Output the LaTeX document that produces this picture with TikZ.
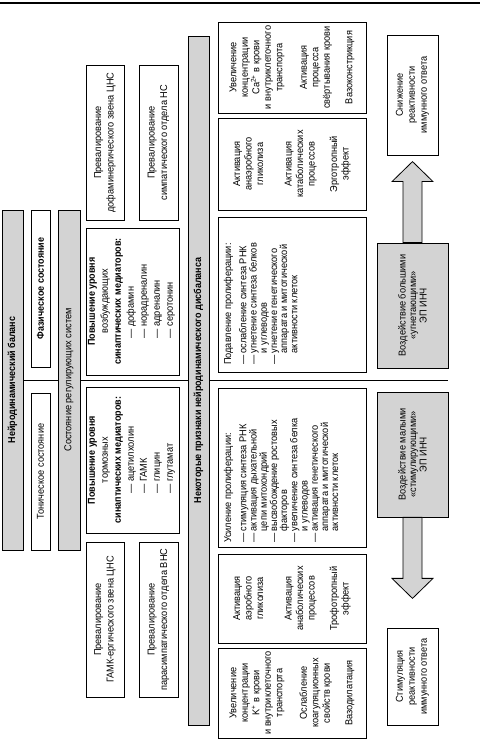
\documentclass[tikz,border=0pt]{standalone}
\usepackage{fontspec}
\setmainfont{Liberation Sans}[UprightFeatures={FakeStretch=0.92}, BoldFeatures={FakeStretch=0.9}]
\usetikzlibrary{calc}
\definecolor{barfill}{RGB}{211,211,211}
\tikzset{
  bar/.style={draw, fill=barfill, inner sep=0pt, minimum height=21pt, font=\bfseries},
  statebox/.style={draw, fill=white, inner sep=0pt, minimum width=157pt, minimum height=19pt},
  mediator/.style={draw, fill=white, align=center, inner sep=0pt, minimum height=93pt, font=\fontsize{10}{13}\selectfont},
  prevbox/.style={draw, fill=white, align=center, inner sep=0pt, minimum width=155pt, minimum height=38pt, font=\fontsize{10}{12.5}\selectfont},
  effect/.style={draw, fill=white, align=center, inner sep=0pt, minimum height=148pt, font=\fontsize{10}{11.5}\selectfont},
  prolif/.style={draw, fill=white, inner sep=0pt, minimum height=148pt, font=\fontsize{10}{10.2}\selectfont},
  dosebox/.style={draw, fill=barfill, align=center, inner sep=0pt, minimum width=125pt, minimum height=71pt, font=\fontsize{10}{10.5}\selectfont},
  response/.style={draw, fill=white, align=center, inner sep=0pt, minimum height=51pt, font=\fontsize{10}{12}\selectfont},
  bigarrow/.style={draw, fill=barfill, line join=miter}
}
\begin{document}
\begin{tikzpicture}[x=1pt, y=1pt, line width=0.8pt, font=\fontsize{10}{11}\selectfont]
\begin{scope}[rotate=90, transform shape]
\useasboundingbox (0,0) rectangle (740,-480);
\draw[line width=1.4pt] (737,0) -- (737,-480);

% central axis
\coordinate (axistop) at (360,-23);
\coordinate (axisend) at (360,-448);
\draw (axistop) -- (axisend);

% balance and states
\node[bar, minimum width=340pt] (balance) at (360,-12.5) {Нейродинамический баланс};
\node[statebox, font=\bfseries] (phasic) at (451.5,-40.5) {Фазическое состояние};
\node[statebox] (tonic) at (268.5,-40.5) {Тоническое состояние};
\node[bar, minimum width=340pt, minimum height=22pt, font=\mdseries] (regsys) at (360,-69) {Состояние регулирующих систем};

% mediators
\node[mediator, minimum width=147pt] (excit) at (438.5,-132.5) {\textbf{Повышение уровня}\\ возбуждающих\\ \textbf{синаптических медиаторов:}\\
  \begin{tabular}[t]{@{}l@{}}— дофамин\\ — норадреналин\\ — адреналин\\ — серотонин\end{tabular}};
\node[mediator, minimum width=146pt] (inhib) at (280,-132.5) {\textbf{Повышение уровня}\\ тормозных\\ \textbf{синаптических медиаторов:}\\
  \begin{tabular}[t]{@{}l@{}}— ацетилхолин\\ — ГАМК\\ — глицин\\ — глутамат\end{tabular}};

% prevailing links
\node[prevbox] (dopa) at (597.5,-105) {Превалирование\\ дофаминергического звена ЦНС};
\node[prevbox, minimum height=39pt] (symp) at (597.5,-158.5) {Превалирование\\ симпатического отдела НС};
\node[prevbox] (gaba) at (120.5,-105) {Превалирование\\ ГАМК-ергического звена ЦНС};
\node[prevbox, minimum height=39pt] (parasymp) at (120.5,-158.5) {Превалирование\\ парасимпатического отдела ВНС};

% signs of imbalance
\node[bar, minimum width=689pt] (imbalance) at (359.5,-198.5) {Некоторые признаки нейродинамического дисбаланса};

\node[prolif, minimum width=155pt] (suppress) at (445.5,-292) {\begin{minipage}[c][136pt][t]{141pt}\raggedright
  Подавление пролиферации:\\[5pt]
  — ослабление синтеза РНК\\
  — угнетение синтеза белков\\
  \phantom{— }и углеводов\\
  — угнетение генетического\\
  \phantom{— }аппарата и митотической\\
  \phantom{— }активности клеток
  \end{minipage}};
\node[prolif, minimum width=159pt] (boost) at (272.5,-292) {\begin{minipage}[c][136pt][t]{151pt}\raggedright
  Усиление пролиферации:\\[5pt]
  — стимуляция синтеза РНК\\
  — активация дыхательной\\
  \phantom{— }цепи митохондрий\\
  — высвобождение ростовых\\
  \phantom{— }факторов\\
  — увеличение синтеза белка\\
  \phantom{— }и углеводов\\
  — активация генетического\\
  \phantom{— }аппарата и митотической\\
  \phantom{— }активности клеток
  \end{minipage}};

\node[effect, minimum width=92pt] (catab) at (576,-292) {Активация\\ анаэробного\\ гликолиза\\[17pt] Активация\\ катаболических\\ процессов\\[11pt] Эрготропный\\ эффект};
\node[effect, minimum width=91pt] (calcium) at (672.5,-292) {Увеличение\\ концентрации\\ Ca\textsuperscript{2+} в крови\\ и внутриклеточного\\ транспорта\\[13pt] Активация\\ процесса\\ свёртывания крови\\[11pt] Вазоконстрикция};
\node[effect, minimum width=89pt] (anab) at (141.5,-292) {Активация\\ аэробного\\ гликолиза\\[17pt] Активация\\ анаболических\\ процессов\\[11pt] Трофотропный\\ эффект};
\node[effect, minimum width=90pt] (potass) at (47,-292) {Увеличение\\ концентрации\\ K\textsuperscript{+} в крови\\ и внутриклеточного\\ транспорта\\[13pt] Ослабление\\ коагуляционных\\ свойств крови\\[11pt] Вазодилатация};

% influence of the field
\node[dosebox] (dosehigh) at (434.5,-412.5) {Воздействие большими\\ «угнетающими»\\ ЭП ИНЧ};
\node[dosebox] (doselow) at (285.5,-412.5) {Воздействие малыми\\ «стимулирующими»\\ ЭП ИНЧ};

\node[response, minimum width=120pt] (reduce) at (645,-412.5) {Снижение\\ реактивности\\ иммунного ответа};
\node[response, minimum width=97pt] (stimul) at (63.5,-412.5) {Стимуляция\\ реактивности\\ иммунного ответа};

\draw[bigarrow] ($(dosehigh.east)+(0,9.5)$) -- ++(61,0) -- ++(0,11) -- ++(20,-20.5) -- ++(-20,-20.5) -- ++(0,11) -- ++(-61,0) -- cycle;
\draw[bigarrow] ($(doselow.west)+(0,9.5)$) -- ++(-61,0) -- ++(0,11) -- ++(-20,-20.5) -- ++(20,-20.5) -- ++(0,11) -- ++(61,0) -- cycle;
\end{scope}
\end{tikzpicture}
\end{document}
